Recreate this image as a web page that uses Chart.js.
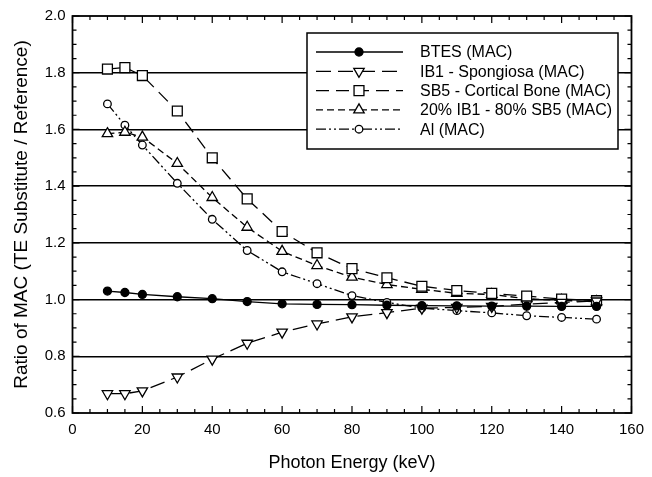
<!DOCTYPE html>
<html>
<head>
<meta charset="utf-8">
<script src="https://cdn.jsdelivr.net/npm/chart.js@4/dist/chart.umd.min.js"></script>
<style>
  html, body { margin: 0; padding: 0; background: #fff; }
  #wrap { width: 652px; height: 477px; }
</style>
</head>
<body>
<div id="wrap"><canvas id="grafico"></canvas></div>
<script>
// Energías (keV) y cocientes
const energias = [10, 15, 20, 30, 40, 50, 60, 70, 80, 90, 100, 110, 120, 130, 140, 150];
const btes = [1.03, 1.025, 1.018, 1.01, 1.003, 0.993, 0.985, 0.983, 0.982, 0.98, 0.979, 0.978, 0.977, 0.977, 0.976, 0.976];
const ib1 = [0.668, 0.668, 0.678, 0.727, 0.79, 0.846, 0.885, 0.914, 0.939, 0.954, 0.97, 0.972, 0.976, 0.984, 0.99, 0.995];
const sb5 = [1.813, 1.818, 1.79, 1.665, 1.5, 1.355, 1.24, 1.165, 1.109, 1.077, 1.047, 1.032, 1.022, 1.012, 1.002, 0.996];
const mezcla = [1.585, 1.59, 1.573, 1.48, 1.36, 1.255, 1.17, 1.12, 1.079, 1.053, 1.036, 1.022, 1.018, 1.003, 0.997, 0.993];
const aluminio = [1.69, 1.615, 1.545, 1.41, 1.283, 1.173, 1.098, 1.056, 1.014, 0.99, 0.97, 0.961, 0.953, 0.943, 0.937, 0.931];
const nombres = ['BTES (MAC)', 'IB1 - Spongiosa (MAC)', 'SB5 - Cortical Bone (MAC)', '20% IB1 - 80% SB5 (MAC)', 'Al (MAC)'];
const ticksY = [0.6, 0.8, 1.0, 1.2, 1.4, 1.6, 1.8, 2.0];

const fuente = 'Liberation Sans, Arial, Helvetica, sans-serif';

function puntos(valores) {
    return energias.map((e, i) => ({ x: e, y: valores[i] }));
}

function serie(label, valores, estilo) {
    return Object.assign({
        label: label,
        data: puntos(valores),
        borderColor: '#000',
        borderWidth: 1.3,
        pointBorderColor: '#000',
        pointBorderWidth: 1.3,
        pointBackgroundColor: '#fff',
        tension: 0,
        fill: false
    }, estilo);
}

// Marco del gráfico y marcas de los ejes hacia adentro
const marcoYTicks = {
    id: 'marcoYTicks',
    afterDraw(chart) {
        const ctx = chart.ctx;
        const a = chart.chartArea;
        const sx = chart.scales.x, sy = chart.scales.y;
        ctx.save();
        ctx.strokeStyle = '#000';
        ctx.lineWidth = 1.2;
        ctx.beginPath();
        for (let v = 0; v <= 160; v += 5) {
            const px = sx.getPixelForValue(v);
            const len = v % 20 === 0 ? 7 : 4;
            ctx.moveTo(px, a.bottom); ctx.lineTo(px, a.bottom - len);
            ctx.moveTo(px, a.top); ctx.lineTo(px, a.top + len);
        }
        for (let k = 0; k <= 28; k++) {
            const v = 0.6 + k * 0.05;
            const py = sy.getPixelForValue(v);
            const len = k % 4 === 0 ? 7 : 4;
            ctx.moveTo(a.left, py); ctx.lineTo(a.left + len, py);
            ctx.moveTo(a.right, py); ctx.lineTo(a.right - len, py);
        }
        ctx.stroke();
        ctx.lineWidth = 1.8;
        ctx.strokeRect(a.left, a.top, a.right - a.left, a.bottom - a.top);
        ctx.restore();
    }
};

// Leyenda dibujada a mano: línea con el marcador en el centro
const leyenda = {
    id: 'leyenda',
    afterDraw(chart) {
        const ctx = chart.ctx;
        const x0 = 307, y0 = 33, w = 311, h = 116;
        ctx.save();
        ctx.fillStyle = '#fff';
        ctx.fillRect(x0, y0, w, h);
        ctx.strokeStyle = '#000';
        ctx.lineWidth = 1.5;
        ctx.strokeRect(x0, y0, w, h);
        ctx.font = '16px ' + fuente;
        ctx.textBaseline = 'middle';
        chart.data.datasets.forEach((ds, i) => {
            const y = 52 + i * 19.3;
            ctx.strokeStyle = '#000';
            ctx.lineWidth = ds.borderWidth;
            ctx.setLineDash(ds.borderDash || []);
            ctx.beginPath();
            ctx.moveTo(316, y);
            ctx.lineTo(403, y);
            ctx.stroke();
            ctx.setLineDash([]);
            ctx.fillStyle = ds.pointBackgroundColor;
            ctx.lineWidth = ds.pointBorderWidth;
            Chart.helpers.drawPoint(ctx, {
                pointStyle: ds.pointStyle,
                radius: ds.pointRadius,
                rotation: ds.pointRotation || 0,
                borderWidth: ds.pointBorderWidth
            }, 359, y);
            ctx.fillStyle = '#000';
            ctx.fillText(ds.label, 420, y + 1);
        });
        ctx.restore();
    }
};

const ctx = document.getElementById('grafico').getContext('2d');
const grafico = new Chart(ctx, {
    type: 'line',
    data: {
        datasets: [
            serie(nombres[0], btes, { pointStyle: 'circle', pointRadius: 4, pointBackgroundColor: '#000' }),
            serie(nombres[1], ib1, { pointStyle: 'triangle', pointRotation: 180, pointRadius: 6, borderDash: [15, 7] }),
            serie(nombres[2], sb5, { pointStyle: 'rect', pointRadius: 7, borderDash: [13, 7] }),
            serie(nombres[3], mezcla, { pointStyle: 'triangle', pointRadius: 6, borderDash: [7, 4] }),
            serie(nombres[4], aluminio, { pointStyle: 'circle', pointRadius: 3.8, borderDash: [10, 3, 2, 3, 2, 3] })
        ]
    },
    options: {
        responsive: true,
        maintainAspectRatio: false,
        animation: false,
        layout: { padding: { top: 14, right: 14, left: 0, bottom: 0 } },
        plugins: {
            legend: { display: false },
            tooltip: { enabled: false }
        },
        scales: {
            x: {
                type: 'linear',
                min: 0,
                max: 160,
                afterFit(scale) { scale.height = 64; },
                grid: { display: false, drawTicks: false },
                border: { display: false },
                ticks: {
                    stepSize: 20,
                    padding: 8,
                    color: '#000',
                    font: { family: fuente, size: 15 },
                    maxRotation: 0
                },
                title: {
                    display: true,
                    text: 'Photon Energy (keV)',
                    color: '#000',
                    font: { family: fuente, size: 18 },
                    padding: { top: 0, bottom: 3 }
                }
            },
            y: {
                type: 'linear',
                min: 0.6,
                max: 2.0,
                afterFit(scale) { scale.width = 72.5; },
                afterBuildTicks(scale) { scale.ticks = ticksY.map(v => ({ value: v })); },
                grid: {
                    drawTicks: false,
                    lineWidth: 1.5,
                    color: c => (c.tick && (c.tick.value === 0.6 || c.tick.value === 2.0)) ? 'rgba(0,0,0,0)' : '#000'
                },
                border: { display: false },
                ticks: {
                    padding: 7,
                    color: '#000',
                    font: { family: fuente, size: 15 },
                    callback: v => v.toFixed(1)
                },
                title: {
                    display: true,
                    text: 'Ratio of MAC (TE Substitute / Reference)',
                    color: '#000',
                    font: { family: fuente, size: 19 },
                    padding: { top: 10.5, bottom: 0 }
                }
            }
        }
    },
    plugins: [marcoYTicks, leyenda]
});
</script>
</body>
</html>
